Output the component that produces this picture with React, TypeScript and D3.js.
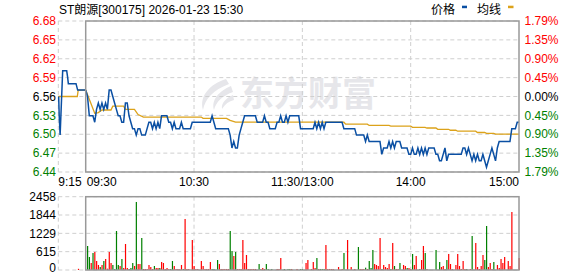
import React from "react";
import * as d3 from "d3";

const title = "ST朗源[300175] 2026-01-23 15:30";
const legendNames = ["价格", "均线"];
const prevClose = 6.56;
const maxPct = 0.0179;
const priceTickLabels = ["6.68", "6.65", "6.62", "6.59", "6.56", "6.53", "6.50", "6.47", "6.44"];
const pctTickLabels = ["1.79%", "1.35%", "0.90%", "0.45%", "0.00%", "0.45%", "0.90%", "1.35%", "1.79%"];
const volTicks = [2458, 1844, 1229, 615, 0];
const timeLabels = ["9:15", "09:30", "10:30", "11:30/13:00", "14:00", "15:00"];
const timeLabelMinutes = [-15, 0, 60, 120, 180, 240];
const gridMinutes = [-15, 60, 120, 180];

// call auction (minutes relative to 09:30, negative)
const preMinutes = [-14.8, -14.5, -14.0, -12.6, -10.4, -9.9, -9.5, -5.3, -4.4, 0];
const prePrices = [6.56, 6.53, 6.5, 6.6, 6.6, 6.59, 6.58, 6.58, 6.57, 6.57];
const preAvgMinutes = [-15, -4.6, -4.1, 0];
const preAvgValues = [6.56, 6.56, 6.57, 6.57];
const preVolMinutes = [-4];
const preVolValues = [40];

// continuous session, one value per minute from 09:30 (0) to 15:00 (240)
const prices = [
  6.57, 6.56, 6.53, 6.53, 6.53, 6.52, 6.54, 6.55, 6.54, 6.55,
  6.54, 6.55, 6.54, 6.57, 6.57, 6.56, 6.55, 6.54, 6.53, 6.53,
  6.52, 6.52, 6.55, 6.55, 6.53, 6.52, 6.51, 6.51, 6.5, 6.51,
  6.51, 6.5, 6.5, 6.5, 6.51, 6.52, 6.52, 6.51, 6.52, 6.51,
  6.52, 6.51, 6.53, 6.53, 6.53, 6.53, 6.52, 6.52, 6.51, 6.52,
  6.51, 6.51, 6.51, 6.52, 6.51, 6.51, 6.51, 6.51, 6.51, 6.52,
  6.52, 6.52, 6.52, 6.52, 6.52, 6.52, 6.52, 6.52, 6.52, 6.52,
  6.53, 6.52, 6.51, 6.51, 6.51, 6.51, 6.51, 6.51, 6.51, 6.51,
  6.5, 6.48, 6.49, 6.48, 6.48, 6.5, 6.51, 6.52, 6.53, 6.53,
  6.53, 6.53, 6.53, 6.53, 6.53, 6.52, 6.52, 6.52, 6.52, 6.53,
  6.52, 6.52, 6.51, 6.51, 6.51, 6.51, 6.52, 6.52, 6.53, 6.52,
  6.52, 6.53, 6.52, 6.53, 6.53, 6.53, 6.53, 6.53, 6.53, 6.51,
  6.51, 6.51, 6.51, 6.51, 6.51, 6.51, 6.51, 6.52, 6.51, 6.52,
  6.51, 6.52, 6.51, 6.52, 6.52, 6.52, 6.52, 6.52, 6.52, 6.52,
  6.52, 6.52, 6.52, 6.51, 6.51, 6.51, 6.51, 6.51, 6.51, 6.51,
  6.5, 6.5, 6.5, 6.5, 6.5, 6.49, 6.5, 6.49, 6.49, 6.49,
  6.49, 6.49, 6.49, 6.49, 6.47, 6.48, 6.48, 6.48, 6.49, 6.48,
  6.49, 6.48, 6.49, 6.49, 6.49, 6.48, 6.48, 6.48, 6.48, 6.47,
  6.47, 6.48, 6.47, 6.47, 6.48, 6.47, 6.48, 6.47, 6.48, 6.47,
  6.48, 6.48, 6.48, 6.48, 6.47, 6.47, 6.46, 6.46, 6.47, 6.48,
  6.46, 6.47, 6.47, 6.47, 6.47, 6.47, 6.47, 6.47, 6.47, 6.48,
  6.48, 6.47, 6.48, 6.47, 6.46, 6.47, 6.46, 6.47, 6.46, 6.46,
  6.47, 6.46, 6.45, 6.46, 6.47, 6.48, 6.47, 6.46, 6.48, 6.49,
  6.49, 6.49, 6.49, 6.49, 6.49, 6.49, 6.51, 6.51, 6.51, 6.52,
  6.52,
];

const avgMinutes = [0, 5, 7, 9, 14, 15, 21, 22, 27, 29, 32, 64, 65, 78, 80, 83, 143, 144, 156, 157, 168, 169, 180, 181, 188, 189, 194, 195, 201, 202, 205, 206, 216, 217, 221, 222, 226, 227, 240];
const avgValues = [6.57, 6.534, 6.535, 6.539, 6.539, 6.545, 6.545, 6.54, 6.54, 6.532, 6.528, 6.528, 6.526, 6.526, 6.523, 6.52, 6.52, 6.517, 6.517, 6.515, 6.515, 6.514, 6.514, 6.512, 6.512, 6.511, 6.511, 6.509, 6.509, 6.5075, 6.5075, 6.506, 6.506, 6.504, 6.504, 6.5026, 6.5026, 6.5016, 6.5016];

const volMinutes = [
  1, 2, 3, 4, 5, 6, 7, 8, 9, 10, 11, 12, 13, 14, 15, 16, 17, 18, 19, 20,
  21, 22, 23, 24, 25, 26, 27, 28, 29, 30, 31, 32, 33, 34, 35, 36, 37, 38, 39, 40,
  41, 42, 43, 44, 45, 46, 47, 48, 49, 50, 51, 52, 53, 54, 55, 56, 57, 59, 60, 61,
  62, 64, 65, 66, 67, 68, 69, 70, 71, 73, 74, 75, 76, 77, 78, 79, 80, 81, 82, 83,
  84, 85, 86, 87, 88, 89, 90, 91, 92, 93, 94, 96, 97, 98, 99, 100, 101, 103, 106, 107,
  108, 110, 112, 113, 114, 117, 119, 120, 122, 123, 125, 126, 127, 128, 129, 130, 131, 132, 133, 134,
  135, 136, 137, 140, 142, 143, 145, 147, 149, 151, 152, 153, 154, 155, 156, 157, 158, 159, 160, 161,
  162, 163, 164, 165, 166, 167, 168, 169, 170, 171, 172, 173, 174, 176, 177, 178, 179, 180, 181, 182,
  183, 185, 186, 187, 188, 189, 194, 196, 197, 198, 199, 200, 201, 202, 203, 205, 206, 207, 208, 209,
  210, 211, 213, 214, 216, 217, 218, 219, 220, 221, 222, 223, 224, 225, 226, 228, 229, 230, 231, 232,
  234, 235, 236, 240,
];
const volValues = [
  805, 436, 235, 570, 604, 302, 168, 100, 168, 302, 369, 45, 604, 235, 168, 34, 1308, 168, 134, 369,
  67, 872, 67, 34, 67, 235, 134, 2281, 201, 201, 1073, 34, 34, 34, 168, 100, 34, 134, 67, 67,
  67, 268, 235, 34, 67, 34, 34, 302, 134, 34, 34, 20, 168, 34, 1711, 34, 34, 1006, 134, 34,
  34, 302, 134, 34, 34, 34, 268, 34, 34, 335, 201, 34, 34, 34, 34, 34, 1308, 637, 470, 604,
  34, 34, 34, 1006, 235, 503, 34, 34, 34, 34, 34, 201, 34, 67, 34, 201, 34, 34, 34, 34,
  402, 34, 34, 34, 34, 34, 34, 34, 235, 335, 34, 268, 67, 402, 34, 34, 34, 34, 838, 34,
  34, 34, 34, 100, 34, 570, 1006, 100, 34, 771, 34, 34, 34, 78, 34, 302, 67, 671, 201, 168,
  134, 1073, 34, 168, 100, 67, 201, 34, 906, 134, 34, 34, 235, 168, 134, 67, 67, 34, 537, 168,
  470, 34, 335, 805, 570, 34, 671, 268, 100, 134, 34, 335, 537, 201, 34, 168, 537, 134, 34, 302,
  34, 34, 34, 1140, 906, 100, 34, 134, 503, 335, 1476, 100, 235, 34, 268, 168, 67, 369, 235, 436,
  302, 134, 1945, 402,
];
// u = price up (red), d = price down (green), one per entry of volMinutes
const volDirs = [
  "dduduuudud", "uuuuddddud", "uuuddduduu", "duuuuuuduu", "duuuuudduu",
  "uuuduuuuuu", "uuuuuuuddd", "uuuuuuddud", "uuuuuuuuuu", "uduuuddduu",
  "uddduudduu", "uuududdduu", "uuuuuduuud", "uuududdduu", "uuduuuudud",
  "uuduuduudu", "uduududduu", "uduuuuuuuu", "ududuuuuud", "duuuduuuuu",
  "uuuu",
].join("");

const W = 578;
const H = 276;
const RED = "#ff0000";
const GREEN = "#008000";
const BLUE = "#0a4fa3";
const GOLD = "#dca21a";
const GRID = "#cfcfcf";
const BOX = "#999999";
const FONT = "'Liberation Sans', 'Noto Sans CJK SC', sans-serif";

export default function App() {
  const lo = prevClose * (1 - maxPct);
  const hi = prevClose * (1 + maxPct);
  const x = d3.scaleLinear().domain([-15, 0, 240]).range([58.3, 85.7, 519]);
  const y = d3.scaleLinear().domain([lo, hi]).range([172, 21]);
  const yv = d3.scaleLinear().domain([0, 2458]).range([270, 196.7]);
  const left = x(0);
  const right = x(240);

  const priceTickValues = d3.range(9).map((k) => hi - (k * (hi - lo)) / 8);
  const lbColor = (k: number) => (k < 4 ? RED : k === 4 ? "#000" : GREEN);

  const line = d3
    .line<[number, number]>()
    .x((d) => x(d[0]))
    .y((d) => y(d[1]));

  const prePts: [number, number][] = preMinutes.map((m, k) => [m, prePrices[k]]);
  const mainPts: [number, number][] = prices.map((p, k) => [k, p]);
  const preAvgPts: [number, number][] = preAvgMinutes.map((m, k) => [m, preAvgValues[k]]);
  const avgPts: [number, number][] = avgMinutes.map((m, k) => [m, avgValues[k]]);

  return (
    <svg
      width={W}
      height={H}
      style={{ position: "absolute", left: 0, top: 0, background: "#fff" }}
      fontFamily={FONT}
    >
      <rect width={W} height={H} fill="#fff" />
      {/* watermark */}
      <g fill="#e6e6ea">
        <path d="M226 79 C210 84 199 96 203 110 C205 99 213 90 229 84 Z" />
        <path d="M231 86 C219 91 211 100 214 110 C216 102 222 96 233 92 Z" />
        <path d="M233 95 C226 98 221 103 222 109 C225 104 229 101 234 100 Z" />
        <text x={240} y={106} fontSize={34} fontWeight="bold" fontFamily="'Noto Sans CJK SC', sans-serif">
          东方财富
        </text>
      </g>

      {/* price grid */}
      {priceTickValues.map((v, k) => (
        <line key={"hg" + k} x1={x(-15)} x2={right} y1={y(v)} y2={y(v)} stroke={GRID} strokeDasharray="4,3" />
      ))}
      {gridMinutes.map((m) => (
        <line key={"vg" + m} x1={x(m)} x2={x(m)} y1={21} y2={172} stroke={GRID} strokeDasharray="4,3" />
      ))}
      {/* volume grid */}
      {volTicks.map((v) => (
        <line key={"vh" + v} x1={x(-15)} x2={right} y1={yv(v)} y2={yv(v)} stroke={GRID} strokeDasharray="4,3" />
      ))}
      {gridMinutes.map((m) => (
        <line key={"vv" + m} x1={x(m)} x2={x(m)} y1={yv(2458)} y2={yv(0)} stroke={GRID} strokeDasharray="4,3" />
      ))}

      {/* lines */}
      <path d={line(preAvgPts) || ""} fill="none" stroke={GOLD} strokeWidth={1.3} />
      <path d={line(avgPts) || ""} fill="none" stroke={GOLD} strokeWidth={1.3} />
      <path d={line(prePts) || ""} fill="none" stroke={BLUE} strokeWidth={1.5} />
      <path d={line(mainPts) || ""} fill="none" stroke={BLUE} strokeWidth={1.5} />

      {/* volume bars */}
      {preVolMinutes.map((m, k) => (
        <rect key={"pv" + k} x={x(m) - 0.5} width={1.2} y={yv(preVolValues[k])} height={yv(0) - yv(preVolValues[k])} fill={RED} />
      ))}
      {volMinutes.map((m, k) => (
        <rect
          key={"v" + k}
          x={x(m) - 0.5}
          width={1.2}
          y={yv(volValues[k])}
          height={yv(0) - yv(volValues[k])}
          fill={volDirs[k] === "d" ? GREEN : RED}
        />
      ))}

      {/* boxes */}
      <rect x={left} y={21} width={right - left} height={151} fill="none" stroke={BOX} strokeWidth={1.5} />
      <rect x={left} y={yv(2458)} width={right - left} height={yv(0) - yv(2458)} fill="none" stroke={BOX} strokeWidth={1.5} />

      {/* price axis labels */}
      {priceTickValues.map((v, k) => (
        <text key={"pl" + k} x={56} y={y(v)} dy="0.35em" textAnchor="end" fontSize={12} fill={lbColor(k)}>
          {priceTickLabels[k]}
        </text>
      ))}
      {priceTickValues.map((v, k) => (
        <text key={"pr" + k} x={524.5} y={y(v)} dy="0.35em" fontSize={12} fill={lbColor(k)}>
          {pctTickLabels[k]}
        </text>
      ))}
      {volTicks.map((v) => (
        <text key={"vl" + v} x={56} y={Math.min(yv(v), 268)} dy="0.35em" textAnchor="end" fontSize={12} fill="#000">
          {v}
        </text>
      ))}
      {/* time labels */}
      {timeLabels.map((t, k) => (
        <text
          key={"t" + k}
          x={x(timeLabelMinutes[k]) + (k === 1 ? 1 : 0)}
          y={186}
          fontSize={12}
          textAnchor={k <= 1 ? "start" : k === timeLabels.length - 1 ? "end" : "middle"}
          fill="#000"
        >
          {t}
        </text>
      ))}

      {/* title & legend */}
      <text x={59} y={14} fontSize={12} fill="#000">
        {title}
      </text>
      <text x={431} y={14} fontSize={12} fill="#000">
        {legendNames[0]}
      </text>
      <rect x={462} y={5.7} width={5} height={2.5} fill={BLUE} />
      <text x={477} y={14} fontSize={12} fill="#000">
        {legendNames[1]}
      </text>
      <rect x={508} y={5.7} width={5.5} height={2.5} fill={GOLD} />
    </svg>
  );
}
